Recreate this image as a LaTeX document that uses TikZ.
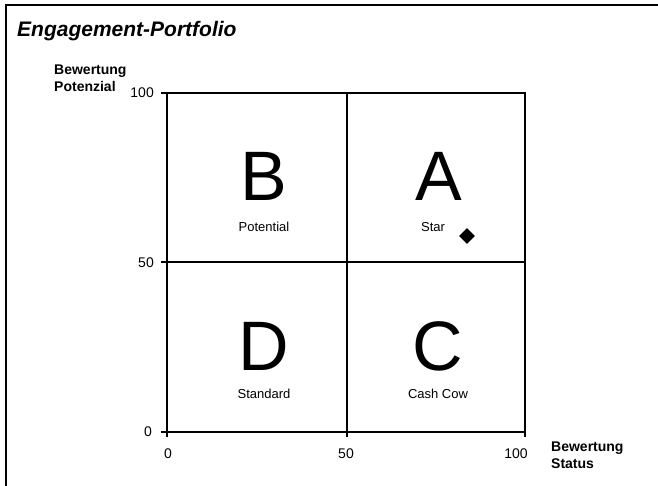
\documentclass[tikz,border=0pt]{standalone}
\usepackage{fontspec}
\setmainfont{Liberation Sans}
\usetikzlibrary{shapes.geometric}
\begin{document}
\begin{tikzpicture}[x=1pt,y=-1pt,
  axis/.style={line width=1.1pt,black},
  big/.style={font=\fontsize{70}{70}\selectfont,anchor=base,inner sep=0pt},
  small/.style={font=\fontsize{13}{13}\selectfont,anchor=base,inner sep=0pt},
  tick/.style={font=\fontsize{14}{14}\selectfont,inner sep=0pt},
  axlabel/.style={font=\bfseries\fontsize{14}{17}\selectfont,align=left,inner sep=0pt}]
\useasboundingbox (0,0) rectangle (658,486);
% frame (only top and left edges visible)
\draw[line width=1.2pt] (6,486) -- (6,5) -- (658,5);
% title
\node[anchor=base west,inner sep=0pt,font=\bfseries\itshape\fontsize{21}{21}\selectfont] (title) at (17,37) {Engagement-Portfolio};
% plot corners
\coordinate (ll) at (167,432);
\coordinate (ul) at (167,93);
\coordinate (ur) at (525,93);
\coordinate (lr) at (525,432);
\coordinate (mt) at (347,93);
\coordinate (mb) at (347,432);
\coordinate (ml) at (167,262);
\coordinate (mr) at (525,262);
\draw[axis] (ll) rectangle (ur);
\draw[axis] (mt) -- (mb);
\draw[axis] (ml) -- (mr);
% ticks
\draw[axis] (ul) -- ++(-6,0);
\draw[axis] (ml) -- ++(-6,0);
\draw[axis] (ll) -- ++(-6,0);
\draw[axis] (ll) -- ++(0,5);
\draw[axis] (mb) -- ++(0,5);
\draw[axis] (lr) -- ++(0,5);
% tick labels
\node[tick,anchor=east] (y100) at (154,93) {100};
\node[tick,anchor=east] (y50) at (154,263) {50};
\node[tick,anchor=east] (y0) at (152,432) {0};
\node[tick] (x0) at (168,454) {0};
\node[tick] (x50) at (346,454) {50};
\node[tick] (x100) at (516,454) {100};
% axis labels
\node[axlabel,anchor=north west] (ylab) at (54,65) {Bewertung\\Potenzial};
\node[axlabel,anchor=north west] (xlab) at (551,442) {Bewertung\\Status};
% quadrants
\node[big] (B) at (264,201) {B};
\node[small] (Bl) at (264,232) {Potential};
\node[big] (A) at (439,201) {A};
\node[small] (Al) at (433,232) {Star};
\node[big] (D) at (264,370) {D};
\node[small] (Dl) at (264,398) {Standard};
\node[big] (C) at (438,370) {C};
\node[small] (Cl) at (438,398) {Cash Cow};
% marker
\node[diamond,fill=black,minimum size=16pt,inner sep=0pt] (pt) at (467,236) {};
\end{tikzpicture}
\end{document}
